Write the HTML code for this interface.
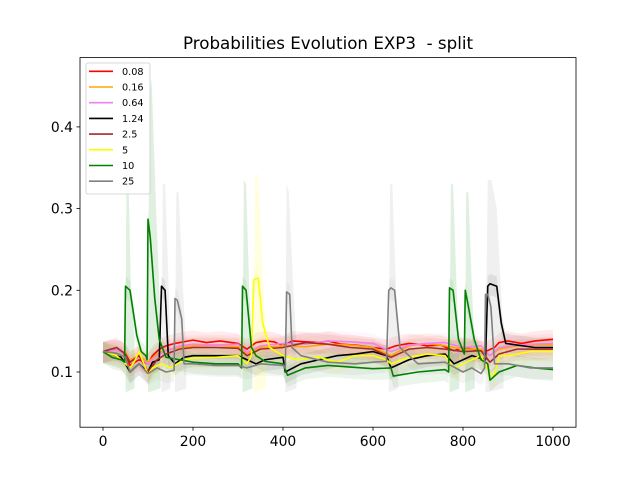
<!DOCTYPE html>
<html><head><meta charset="utf-8"><style>
body{margin:0;background:#fff}
svg{display:block;font-family:"DejaVu Sans","Liberation Sans",sans-serif}
</style></head><body>
<svg id="chart" width="640" height="480" xmlns="http://www.w3.org/2000/svg">
<rect width="640" height="480" fill="#fff"/>
<text x="328" y="49" font-size="16.7" text-anchor="middle" xml:space="preserve" style="white-space:pre">Probabilities Evolution EXP3  - split</text>
<g id="bands"></g>
<g id="lines"></g>
<rect x="80" y="57.6" width="496" height="369.6" fill="none" stroke="#000" stroke-width="0.8"/>
<g id="axes"></g>
<g id="legend"></g>
</svg>
<script>
const xTicks=[0,200,400,600,800,1000];
const yTicks=[0.1,0.2,0.3,0.4];
const seriesNames=["0.08","0.16","0.64","1.24","2.5","5","10","25"];
const seriesColors=["#ff0000","#ffa500","#ee82ee","#000000","#a52a2a","#ffff00","#008000","#808080"];

const redX=[0,20,40,50,60,80,100,110,125,140,160,180,200,230,260,300,320,340,360,380,400,420,450,480,500,530,560,600,630,650,680,700,720,750,780,800,820,850,870,880,900,930,960,1000];
const redY=[.125,.128,.126,.12,.108,.115,.11,.12,.128,.132,.135,.137,.139,.136,.138,.135,.128,.136,.138,.137,.132,.138,.137,.136,.138,.134,.133,.13,.128,.132,.135,.134,.132,.133,.126,.13,.128,.125,.13,.136,.138,.135,.138,.14];
const orangeX=[0,30,50,60,80,100,120,140,170,200,250,300,320,350,400,450,500,550,600,640,680,720,760,800,840,860,880,920,960,1000];
const orangeY=[.125,.127,.124,.115,.12,.112,.122,.127,.13,.132,.133,.131,.122,.13,.132,.131,.134,.133,.13,.12,.132,.135,.132,.128,.128,.12,.128,.132,.133,.133];
const violetX=[0,30,50,60,80,100,120,140,170,200,250,300,320,350,400,450,500,550,600,640,680,720,760,800,840,860,880,920,960,1000];
const violetY=[.125,.127,.122,.113,.118,.11,.12,.126,.132,.134,.133,.134,.124,.132,.135,.134,.138,.137,.135,.125,.133,.135,.136,.13,.132,.12,.13,.133,.134,.135];
const blackX=[0,40,50,60,70,80,100,110,125,130,138,145,160,180,200,250,300,320,340,360,400,405,440,480,520,560,600,630,640,680,720,760,780,800,820,850,855,860,875,885,895,920,960,1000];
const blackY=[.125,.118,.11,.1,.105,.11,.1,.112,.115,.205,.2,.12,.11,.118,.12,.12,.12,.115,.11,.115,.118,.1,.11,.115,.12,.122,.125,.12,.105,.115,.12,.122,.11,.115,.12,.115,.205,.208,.205,.16,.135,.133,.13,.13];
const brownX=[0,30,50,60,80,100,120,140,170,200,250,300,320,350,400,450,500,550,600,640,680,720,760,800,840,860,880,920,960,1000];
const brownY=[.125,.13,.122,.112,.12,.1,.115,.122,.128,.13,.13,.129,.12,.128,.13,.136,.134,.13,.128,.118,.128,.13,.128,.125,.126,.112,.122,.128,.128,.128];
const yellowX=[0,30,50,60,70,80,100,110,130,150,180,200,250,300,320,330,335,345,355,370,400,430,480,520,560,600,630,640,680,720,760,780,800,840,860,870,880,900,950,1000];
const yellowY=[.125,.12,.11,.105,.113,.125,.097,.105,.11,.105,.115,.117,.118,.12,.11,.12,.213,.215,.16,.13,.12,.115,.118,.112,.12,.12,.115,.11,.118,.122,.12,.105,.11,.12,.098,.095,.12,.12,.125,.125];
const greenX=[0,20,40,48,50,60,75,85,95,98,100,105,115,125,140,170,200,250,300,308,310,318,330,340,360,400,410,450,500,550,600,640,645,700,760,768,770,778,790,803,805,812,825,840,855,860,880,920,960,1000];
const greenY=[.125,.118,.115,.112,.205,.2,.145,.125,.12,.115,.287,.265,.19,.14,.118,.115,.112,.11,.11,.105,.205,.2,.13,.12,.113,.11,.096,.105,.108,.106,.104,.105,.095,.1,.103,.1,.203,.2,.14,.122,.2,.18,.14,.115,.11,.09,.1,.108,.105,.103];
const grayX=[0,30,50,60,80,100,120,140,158,160,165,175,180,200,250,300,320,350,400,405,408,415,420,440,500,560,600,630,635,640,648,660,700,760,800,820,840,848,850,855,862,870,900,950,1000];
const grayY=[.125,.123,.118,.1,.11,.098,.105,.1,.102,.19,.188,.165,.11,.11,.108,.108,.105,.11,.108,.105,.198,.195,.13,.12,.112,.11,.112,.113,.2,.203,.2,.13,.11,.112,.1,.105,.098,.105,.195,.195,.18,.11,.11,.105,.105];

const spikeBandX=[[50,52,55,62,70],[100,103,108,118,128],[130,133,138,145,150],[160,163,168,178,185],[310,313,318,325,332],[335,338,345,355,362],[405,408,413,423,430],[635,638,643,650,656],[770,773,778,786,792],[805,807,812,820,826],[850,855,863,875,890]];
const spikeBandTop=[[.12,.34,.38,.2,.14],[.12,.43,.46,.3,.16],[.12,.33,.33,.22,.13],[.12,.32,.32,.2,.13],[.12,.335,.33,.2,.13],[.12,.345,.34,.22,.14],[.12,.33,.32,.2,.13],[.12,.33,.33,.22,.13],[.12,.33,.33,.2,.13],[.12,.32,.32,.2,.13],[.12,.335,.335,.3,.14]];
const spikeBandColor=[6,6,7,7,6,5,7,7,6,6,7];

const xs=[redX,orangeX,violetX,blackX,brownX,yellowX,greenX,grayX];
const ys=[redY,orangeY,violetY,blackY,brownY,yellowY,greenY,grayY];

const NS="http://www.w3.org/2000/svg";
const X=v=>103+v*0.45;
const Y=v=>372-(v-0.1)*817;
function mk(tag,attrs,parent){const e=document.createElementNS(NS,tag);for(const k in attrs)e.setAttribute(k,attrs[k]);parent.appendChild(e);return e;}
const bands=document.getElementById('bands'),lines=document.getElementById('lines'),axes=document.getElementById('axes'),legend=document.getElementById('legend');

ys.forEach((arr,i)=>{
  const xa=xs[i];
  let pts=xa.map((x,j)=>X(x)+','+Y(arr[j]+0.012));
  pts=pts.concat(xa.map((x,j)=>X(x)+','+Y(arr[j]-0.014)).reverse());
  const p=mk('polygon',{points:pts.join(' '),fill:seriesColors[i],'fill-opacity':0.08},bands);
  
  
});
spikeBandX.forEach((xa,i)=>{
  const top=spikeBandTop[i];
  let pts=xa.map((x,j)=>X(x)+','+Y(top[j]));
  pts.push(X(xa[xa.length-1])+','+Y(0.08));pts.push(X(xa[0])+','+Y(0.075));
  const p=mk('polygon',{points:pts.join(' '),fill:seriesColors[spikeBandColor[i]],'fill-opacity':0.12},bands);
  
  
});
ys.forEach((arr,i)=>{
  const pts=xs[i].map((x,j)=>X(x)+','+Y(arr[j])).join(' ');
  const l=mk('polyline',{points:pts,fill:'none',stroke:seriesColors[i],'stroke-width':1.6,'stroke-linejoin':'round'},lines);
  
  
});
xTicks.forEach(t=>{
  const x=X(t);
  mk('line',{x1:x,x2:x,y1:427.2,y2:430.7,stroke:'#000','stroke-width':0.8},axes);
  const tx=mk('text',{x:x,y:446,'font-size':13.9,'text-anchor':'middle'},axes);tx.textContent=t;
  
  
});
yTicks.forEach(t=>{
  const y=Y(t);
  mk('line',{x1:76.5,x2:80,y1:y,y2:y,stroke:'#000','stroke-width':0.8},axes);
  const tx=mk('text',{x:73,y:y+5,'font-size':13.9,'text-anchor':'end'},axes);tx.textContent=t.toFixed(1);
  
  
});
mk('rect',{x:86,y:63,width:64,height:131,rx:2,fill:'#fff','fill-opacity':0.8,stroke:'#ccc','stroke-width':0.8},legend);
seriesNames.forEach((n,i)=>{
  const y=71.3+i*15.7;
  const g=mk('g',{},legend);
  
  
  mk('line',{x1:89,x2:113,y1:y,y2:y,stroke:seriesColors[i],'stroke-width':1.6},g);
  const t=mk('text',{x:122,y:y+3.5,'font-size':9.7},g);t.textContent=n;
});
</script>
</body></html>
